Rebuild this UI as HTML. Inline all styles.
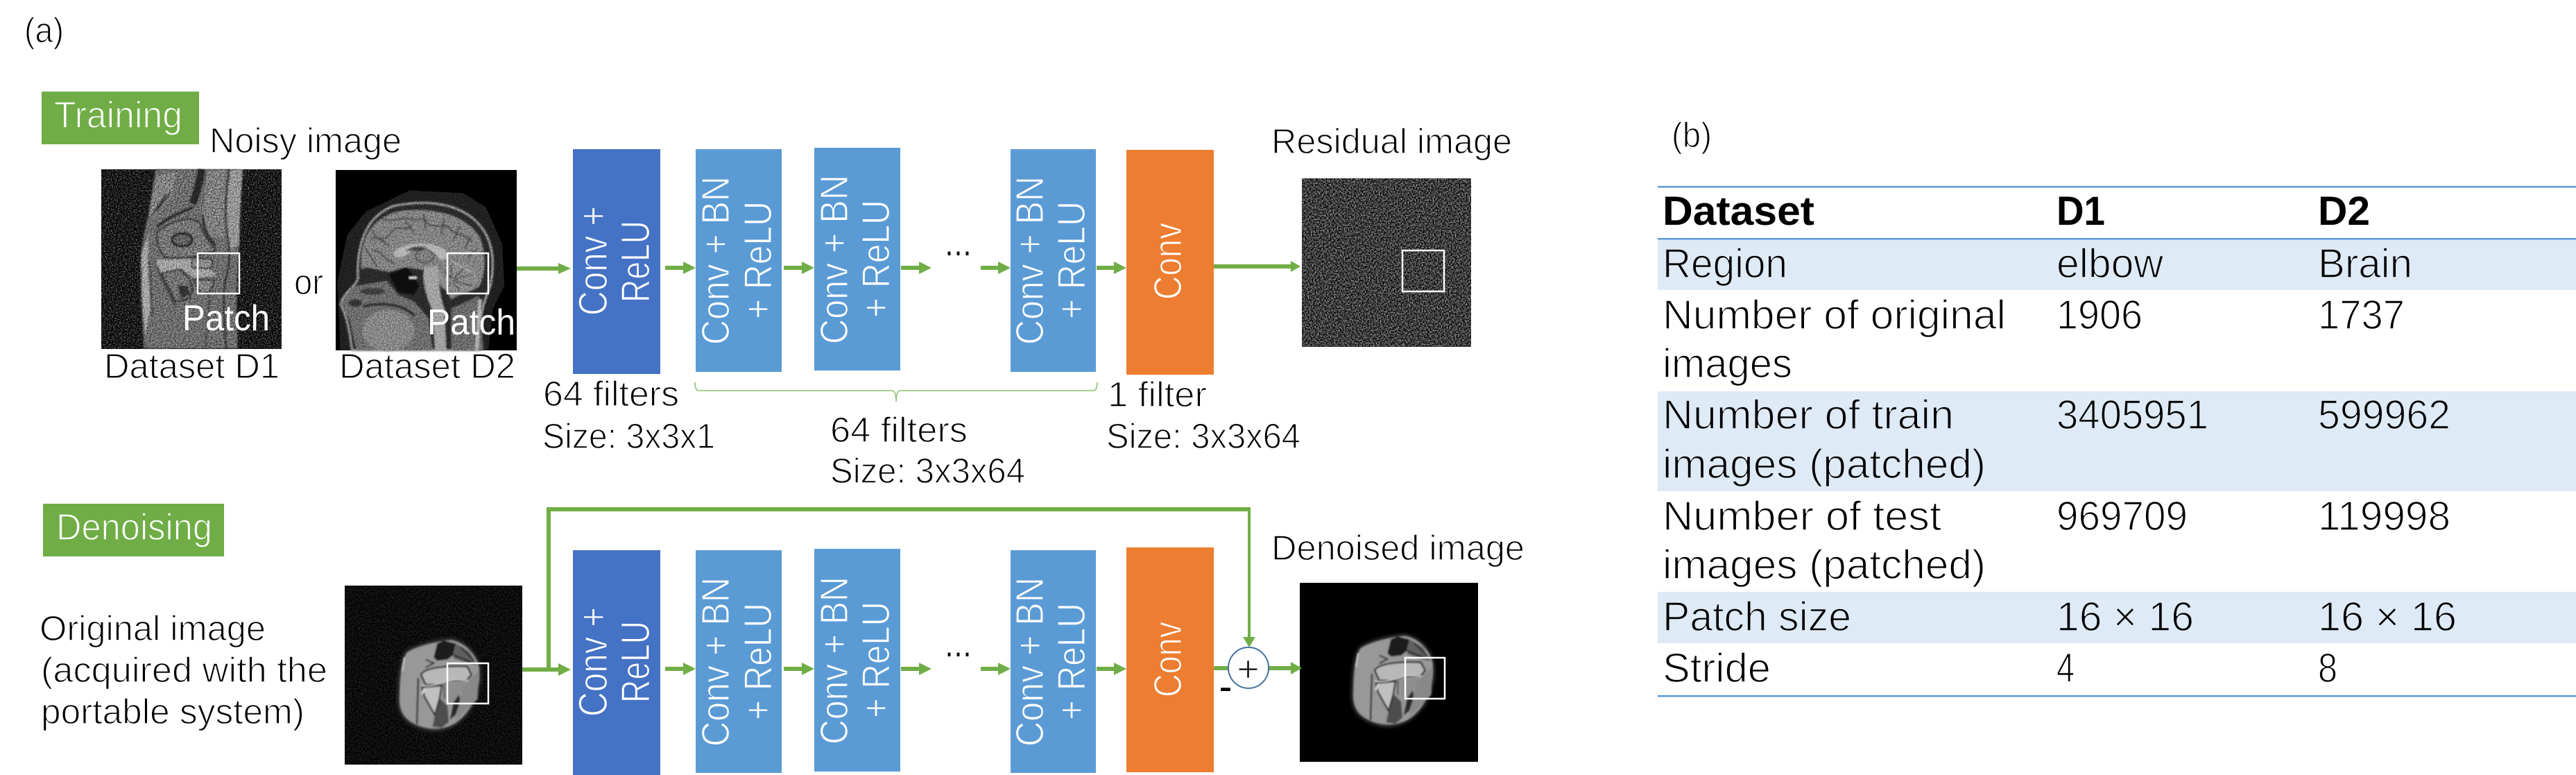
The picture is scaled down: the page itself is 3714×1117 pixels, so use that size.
<!DOCTYPE html>
<html lang="en">
<head>
<meta charset="utf-8">
<title>Diagram</title>
<style>
html,body{margin:0;padding:0;background:#fff;width:3714px;height:1117px;overflow:hidden}
svg{display:block}
text{font-family:"Liberation Sans","Noto Sans CJK JP",sans-serif;white-space:pre}
.k{fill:#000;stroke:#fff;stroke-width:1.4;font-size:51px}
.t{fill:#000;stroke:#fff;stroke-width:1.5;font-size:59px}
.tb{fill:#000;stroke:#deeaf6;stroke-width:1.5;font-size:59px}
.b{fill:#000;font-size:58px;font-weight:bold}
.gw{fill:#fff;stroke:#70ad47;stroke-width:1.4;font-size:54px}
.pw{fill:#fff;stroke:none;font-size:52px}
.r1{fill:#fff;stroke:#4472c4;stroke-width:1.3;font-size:58px}
.r2{fill:#fff;stroke:#5b9bd5;stroke-width:1.3;font-size:57px}
.r3{fill:#fff;stroke:#ed7d31;stroke-width:1.3;font-size:57px}
.g{fill:#70ad47}
.box{fill:none;stroke:#fff;stroke-width:2.5}
</style>
</head>
<body>
<svg xmlns="http://www.w3.org/2000/svg" width="3714" height="1117" viewBox="0 0 3714 1117">
<defs>
  <filter id="nDark" x="0" y="0" width="100%" height="100%" color-interpolation-filters="sRGB">
    <feTurbulence type="fractalNoise" baseFrequency="0.55" numOctaves="2" seed="4"/>
    <feColorMatrix type="matrix" values="1 0 0 0 -0.4  1 0 0 0 -0.4  1 0 0 0 -0.4  0 0 0 0 1"/>
  </filter>
  <filter id="nRes" x="0" y="0" width="100%" height="100%" color-interpolation-filters="sRGB">
    <feTurbulence type="fractalNoise" baseFrequency="0.5" numOctaves="2" seed="9"/>
    <feColorMatrix type="matrix" values="1.3 0 0 0 -0.41  1.3 0 0 0 -0.41  1.3 0 0 0 -0.41  0 0 0 0 1"/>
  </filter>
  <filter id="nOv" x="0" y="0" width="100%" height="100%" color-interpolation-filters="sRGB">
    <feTurbulence type="fractalNoise" baseFrequency="0.5" numOctaves="2" seed="2"/>
    <feColorMatrix type="matrix" values="1.6 0 0 0 -0.3  1.6 0 0 0 -0.3  1.6 0 0 0 -0.3  0 0 0 0 1"/>
  </filter>
  <filter id="nFaint" x="0" y="0" width="100%" height="100%" color-interpolation-filters="sRGB">
    <feTurbulence type="fractalNoise" baseFrequency="0.5" numOctaves="2" seed="6"/>
    <feColorMatrix type="matrix" values=".3 0 0 0 -0.1  .3 0 0 0 -0.1  .3 0 0 0 -0.1  0 0 0 0 1"/>
  </filter>
  <filter id="s2" x="-10%" y="-10%" width="120%" height="120%"><feGaussianBlur stdDeviation="3"/></filter>
  <filter id="s6" x="-20%" y="-20%" width="140%" height="140%"><feGaussianBlur stdDeviation="9"/></filter>

  <g id="joint">
    <path d="M265 285C320 250 400 235 460 230C520 240 570 290 585 350C595 430 570 540 480 600C430 630 370 640 300 605C250 580 225 540 232 470C235 380 240 330 265 285Z" fill="#4a4a4a" filter="url(#s6)"/>
    <g filter="url(#s2)">
      <path d="M268 290C320 258 400 242 460 236C520 246 565 295 580 350C590 430 565 535 478 595C430 622 370 630 302 598C256 575 232 540 238 470C240 385 246 335 268 290Z" fill="#989898"/>
      <path d="M400 250L430 238L480 250L470 300L445 320L400 325L385 310Z" fill="#1c1c1c"/>
      <path d="M480 250L540 285L572 345L530 335L470 315Z" fill="#5f5f5f"/>
      <path d="M500 265L560 325M470 300L545 330" stroke="#1c1c1c" stroke-width="6" fill="none"/>
      <path d="M350 320L385 335L350 355" stroke="#222" stroke-width="6" fill="none"/>
      <path d="M318 400L312 600" stroke="#222" stroke-width="7" fill="none"/>
      <path d="M258 310L248 370" stroke="#e0e0e0" stroke-width="5" fill="none"/>
      <path d="M330 385C345 355 440 345 530 350L548 385L530 408L460 412L400 428L350 428Z" fill="#b8b8b8" stroke="#141414" stroke-width="7"/>
      <path d="M335 440L420 432L410 490L390 560L345 480Z" fill="#c0c0c0" stroke="#141414" stroke-width="7"/>
      <path d="M440 428L530 412L495 470L465 505L445 505Z" fill="#8e8e8e"/>
      <path d="M495 470L470 505L455 580L480 560L500 500Z" fill="#2a2a2a"/>
      <path d="M415 490L390 560L380 610L420 615L450 590L445 520Z" fill="#4d4d4d"/>
      <path d="M510 440L578 370L575 490L510 555L480 585L495 510Z" fill="#888"/>
      <path d="M330 432C380 440 430 415 470 408C500 405 520 410 535 410" stroke="#d0d0d0" stroke-width="5" fill="none"/>
      <path d="M430 428L430 490" stroke="#1a1a1a" stroke-width="5" fill="none"/>
      <path d="M345 445L335 470" stroke="#eee" stroke-width="6" fill="none"/>
    </g>
  </g>
</defs>

<rect width="3714" height="1117" fill="#fff"/>

<!-- (a) -->
<text class="k" x="35" y="61" textLength="57" lengthAdjust="spacingAndGlyphs">(a)</text>

<!-- Training -->
<rect x="60" y="132" width="227" height="76" class="g"/>
<text class="gw" x="78" y="184" textLength="185" lengthAdjust="spacingAndGlyphs">Training</text>
<text class="k" x="302" y="220" textLength="277" lengthAdjust="spacingAndGlyphs">Noisy image</text>

<!-- Elbow image -->
<g>
  <rect x="146" y="244" width="260" height="259" fill="#141414"/>
  <rect x="146" y="244" width="260" height="259" filter="url(#nDark)"/>
  <g transform="translate(146 244) scale(.3333)">
    <g filter="url(#s2)">
      <path d="M235 0L610 0L600 100L598 300L590 400L585 560L590 775L185 775L172 560L170 380L185 280L205 190Z" fill="#6c6c6c"/>
      <path d="M555 0L612 0L600 200L597 330L560 345L535 240Z" fill="#949494"/>
      <path d="M460 0L540 0L530 160L530 300L470 290L440 200Z" fill="#7e7e7e"/>
      <path d="M175 360L205 285L200 400L212 600L190 720L178 560Z" fill="#a4a4a4"/>
      <path d="M240 30L320 10L310 110L230 210L205 190Z" fill="#828282"/>
      <path d="M435 0C425 60 410 110 395 150" stroke="#262626" stroke-width="34" fill="none"/>
      <path d="M395 165C340 190 290 205 240 250" stroke="#222" stroke-width="12" fill="none"/>
      <path d="M440 200C440 260 460 290 495 330" stroke="#222" stroke-width="10" fill="none"/>
      <path d="M300 100L240 180M280 110L220 200" stroke="#2a2a2a" stroke-width="7" fill="none"/>
      <path d="M240 272C300 222 400 192 430 240C445 300 490 330 492 352L420 372L380 382L280 382C250 362 240 312 240 272Z" fill="#747474" stroke="#181818" stroke-width="6"/>
      <ellipse cx="350" cy="305" rx="44" ry="28" fill="#626262" stroke="#181818" stroke-width="10"/>
      <path d="M230 392L420 386L500 460L400 470L350 430L260 450Z" fill="#a0a0a0"/>
      <rect x="392" y="386" width="88" height="42" rx="12" fill="#8c8c8c" stroke="#181818" stroke-width="6"/>
      <path d="M260 450L340 432L380 470L395 520L380 560L320 572Z" fill="#727272" stroke="#181818" stroke-width="6"/>
      <path d="M330 500L375 505L385 540L345 560Z" fill="#303030"/>
      <path d="M400 475L490 480L470 530L430 535Z" fill="#828282" stroke="#181818" stroke-width="6"/>
      <path d="M555 0C540 100 535 180 545 280C555 330 560 400 540 470C525 520 530 650 540 775" stroke="#181818" stroke-width="7" fill="none"/>
      <path d="M470 540L450 775M210 400L220 640" stroke="#303030" stroke-width="5" fill="none"/>
      <path d="M230 390L255 460L320 590" stroke="#1c1c1c" stroke-width="5" fill="none"/>
    </g>
  </g>
  <rect x="146" y="244" width="260" height="259" filter="url(#nOv)" style="mix-blend-mode:overlay" opacity=".6"/>
  <rect x="285" y="365" width="60" height="58" class="box"/>
  <text class="pw" x="263" y="476" textLength="126" lengthAdjust="spacingAndGlyphs">Patch</text>
</g>
<text class="k" x="424" y="424" textLength="42" lengthAdjust="spacingAndGlyphs">or</text>

<!-- Brain image -->
<g>
  <rect x="484" y="245" width="261" height="260" fill="#000"/>
  <g transform="translate(484 245) scale(.3333)">
    <path d="M130 180L320 88L550 100L650 160L720 320L730 500L680 600L660 780L20 780L8 480L50 280Z" fill="#202020"/>
    <g filter="url(#s2)">
      <path d="M95 470C90 320 130 200 250 155C400 125 560 140 640 260C680 320 690 400 670 500C650 560 620 600 620 780L70 780C60 700 50 640 20 580C40 520 90 500 95 470Z" fill="#2a2a2a" stroke="#a0a0a0" stroke-width="8"/>
      <path d="M112 430C100 300 160 200 280 178C420 162 560 190 622 290C650 360 650 440 622 500C590 530 540 530 500 560L440 440L300 420L230 440L130 420Z" fill="#828282"/>
      <path d="M150 300C180 280 210 320 240 270C260 230 300 270 330 240M200 210C240 230 290 200 320 210C360 230 370 190 400 230C430 260 470 220 500 260C530 290 560 270 590 310M380 190L390 260M470 210L455 280M540 240L510 300M160 350C200 340 200 390 250 400M130 340L180 420M230 330C190 290 170 300 160 260M300 220L340 270M580 290L560 340M610 340L570 380" stroke="#404040" stroke-width="6" fill="none"/>
      <path d="M250 360C270 318 400 298 472 345C492 370 482 392 450 386C430 340 350 330 300 370C280 382 255 382 250 360Z" fill="#b4b4b4"/>
      <path d="M300 350C330 330 360 325 400 335L350 350Z" fill="#444"/>
      <ellipse cx="385" cy="372" rx="40" ry="28" fill="#7f7f7f" stroke="#333" stroke-width="5"/>
      <path d="M385 420L440 415C452 470 440 520 470 600L478 780L430 780L420 610C390 540 370 470 385 420Z" fill="#a2a2a2"/>
      <ellipse cx="530" cy="470" rx="85" ry="64" fill="#8a8a8a"/>
      <path d="M500 470L460 430M500 470L500 410M510 470L560 420M510 475L590 450M510 480L590 500M505 485L540 525M500 490L480 510" stroke="#3c3c3c" stroke-width="5" fill="none"/>
      <path d="M500 392L590 445" stroke="#b0b0b0" stroke-width="5" fill="none"/>
      <path d="M20 580L70 505L220 480L270 540L340 570L400 640L420 780L90 780L60 650Z" fill="#6c6c6c"/>
      <path d="M228 450L310 420L362 500L340 540L270 530Z" fill="#111"/>
      <ellipse cx="160" cy="525" rx="55" ry="15" fill="#3c3c3c"/>
      <ellipse cx="85" cy="575" rx="30" ry="16" fill="#333"/>
      <ellipse cx="228" cy="695" rx="112" ry="90" fill="#868686"/>
      <path d="M120 590C200 570 290 580 340 630" stroke="#2a2a2a" stroke-width="12" fill="none"/>
      <path d="M318 466H350" stroke="#e8e8e8" stroke-width="8"/>
      <path d="M500 600L620 545L640 780L500 780Z" fill="#6a6a6a"/>
      <path d="M625 560L610 780" stroke="#b4b4b4" stroke-width="14" fill="none"/>
      <path d="M530 560C580 530 640 520 660 470" stroke="#2a2a2a" stroke-width="10" fill="none"/>
    </g>
  </g>
  <rect x="484" y="245" width="261" height="260" filter="url(#nOv)" style="mix-blend-mode:overlay" opacity=".4"/>
  <rect x="645" y="365" width="59" height="58" class="box"/>
  <text class="pw" x="616" y="482" textLength="127" lengthAdjust="spacingAndGlyphs">Patch</text>
</g>

<text class="k" x="150" y="545" textLength="253" lengthAdjust="spacingAndGlyphs">Dataset D1</text>
<text class="k" x="489" y="545" textLength="254" lengthAdjust="spacingAndGlyphs">Dataset D2</text>

<!-- Training blocks -->
<rect x="826" y="215" width="126" height="324" fill="#4472c4"/>
<text class="r1" transform="translate(875 455) rotate(-90)" textLength="158" lengthAdjust="spacingAndGlyphs">Conv +</text>
<text class="r1" transform="translate(936 436) rotate(-90)" textLength="118" lengthAdjust="spacingAndGlyphs">ReLU</text>

<rect x="1003" y="215" width="124" height="321" fill="#5b9bd5"/>
<text class="r2" transform="translate(1051 497) rotate(-90)" textLength="243" lengthAdjust="spacingAndGlyphs">Conv + BN</text>
<text class="r2" transform="translate(1112 460) rotate(-90)" textLength="170" lengthAdjust="spacingAndGlyphs">+ ReLU</text>

<rect x="1174" y="213" width="124" height="321" fill="#5b9bd5"/>
<text class="r2" transform="translate(1222 496) rotate(-90)" textLength="244" lengthAdjust="spacingAndGlyphs">Conv + BN</text>
<text class="r2" transform="translate(1282 458) rotate(-90)" textLength="170" lengthAdjust="spacingAndGlyphs">+ ReLU</text>

<rect x="1457" y="215" width="123" height="321" fill="#5b9bd5"/>
<text class="r2" transform="translate(1504 497) rotate(-90)" textLength="243" lengthAdjust="spacingAndGlyphs">Conv + BN</text>
<text class="r2" transform="translate(1564 460) rotate(-90)" textLength="170" lengthAdjust="spacingAndGlyphs">+ ReLU</text>

<rect x="1624" y="216" width="126" height="324" fill="#ed7d31"/>
<text class="r3" transform="translate(1703 432) rotate(-90)" textLength="111" lengthAdjust="spacingAndGlyphs">Conv</text>

<text style="font-size:50px" x="1361" y="368" textLength="41" lengthAdjust="spacingAndGlyphs">…</text>

<!-- Training arrows -->
<g class="g">
  <polygon points="745,384 805,384 805,379 823,387 805,395 805,390 745,390"/>
  <polygon points="959,383 985,383 985,377 1003,386 985,395 985,389 959,389"/>
  <polygon points="1130,383 1156,383 1156,377 1174,386 1156,395 1156,389 1130,389"/>
  <polygon points="1299,383 1325,383 1325,377 1343,386 1325,395 1325,389 1299,389"/>
  <polygon points="1414,383 1439,383 1439,377 1457,386 1439,395 1439,389 1414,389"/>
  <polygon points="1581,383 1606,383 1606,377 1624,386 1606,395 1606,389 1581,389"/>
  <polygon points="1750,381 1861,381 1861,376 1875,384 1861,392 1861,387 1750,387"/>
</g>

<text class="k" x="1833" y="221" textLength="347" lengthAdjust="spacingAndGlyphs">Residual image</text>
<rect x="1877" y="257" width="244" height="243" fill="#333"/>
<rect x="1877" y="257" width="244" height="243" filter="url(#nRes)"/>
<rect x="2022" y="361" width="60" height="59" class="box"/>

<!-- Brace -->
<path d="M1002 551Q1002 563 1008 563H1286Q1292 563 1292 579Q1292 563 1298 563H1576Q1582 563 1582 551" fill="none" stroke="#8cbf6c" stroke-width="1.6"/>

<text class="k" x="783" y="585" textLength="196" lengthAdjust="spacingAndGlyphs">64 filters</text>
<text class="k" x="782" y="646" textLength="249" lengthAdjust="spacingAndGlyphs">Size: 3x3x1</text>
<text class="k" x="1197" y="637" textLength="198" lengthAdjust="spacingAndGlyphs">64 filters</text>
<text class="k" x="1197" y="696" textLength="281" lengthAdjust="spacingAndGlyphs">Size: 3x3x64</text>
<text class="k" x="1597" y="586" textLength="143" lengthAdjust="spacingAndGlyphs">1 filter</text>
<text class="k" x="1595" y="646" textLength="280" lengthAdjust="spacingAndGlyphs">Size: 3x3x64</text>

<!-- Denoising -->
<rect x="62" y="726" width="261" height="76" class="g"/>
<text class="gw" x="81" y="778" textLength="225" lengthAdjust="spacingAndGlyphs">Denoising</text>

<text class="k" x="57" y="923" textLength="326" lengthAdjust="spacingAndGlyphs">Original image</text>
<text class="k" x="59" y="983" textLength="413" lengthAdjust="spacingAndGlyphs">(acquired with the</text>
<text class="k" x="59" y="1043" textLength="380" lengthAdjust="spacingAndGlyphs">portable system)</text>

<rect x="497" y="844" width="256" height="258" fill="#0a0a0a"/>
<rect x="497" y="844" width="256" height="258" filter="url(#nFaint)"/>
<use href="#joint" transform="translate(497 844) scale(.3333)"/>
<rect x="645" y="956" width="59" height="58" class="box"/>

<rect x="1874" y="840" width="257" height="258" fill="#000"/>
<use href="#joint" transform="translate(1872 838) scale(.3333)"/>
<rect x="2026" y="948" width="57" height="59" class="box"/>

<rect x="826" y="793" width="126" height="324" fill="#4472c4"/>
<text class="r1" transform="translate(875 1033) rotate(-90)" textLength="158" lengthAdjust="spacingAndGlyphs">Conv +</text>
<text class="r1" transform="translate(936 1013) rotate(-90)" textLength="118" lengthAdjust="spacingAndGlyphs">ReLU</text>

<rect x="1003" y="793" width="124" height="321" fill="#5b9bd5"/>
<text class="r2" transform="translate(1051 1076) rotate(-90)" textLength="244" lengthAdjust="spacingAndGlyphs">Conv + BN</text>
<text class="r2" transform="translate(1112 1038) rotate(-90)" textLength="169" lengthAdjust="spacingAndGlyphs">+ ReLU</text>

<rect x="1174" y="791" width="124" height="321" fill="#5b9bd5"/>
<text class="r2" transform="translate(1222 1073) rotate(-90)" textLength="242" lengthAdjust="spacingAndGlyphs">Conv + BN</text>
<text class="r2" transform="translate(1282 1035) rotate(-90)" textLength="168" lengthAdjust="spacingAndGlyphs">+ ReLU</text>

<rect x="1457" y="793" width="123" height="321" fill="#5b9bd5"/>
<text class="r2" transform="translate(1504 1076) rotate(-90)" textLength="244" lengthAdjust="spacingAndGlyphs">Conv + BN</text>
<text class="r2" transform="translate(1564 1038) rotate(-90)" textLength="169" lengthAdjust="spacingAndGlyphs">+ ReLU</text>

<rect x="1624" y="789" width="126" height="324" fill="#ed7d31"/>
<text class="r3" transform="translate(1703 1005) rotate(-90)" textLength="109" lengthAdjust="spacingAndGlyphs">Conv</text>

<text style="font-size:50px" x="1361" y="946" textLength="41" lengthAdjust="spacingAndGlyphs">…</text>

<!-- Denoising arrows -->
<g class="g">
  <polygon points="753,962 805,962 805,956 823,965 805,974 805,968 753,968"/>
  <rect x="788" y="731" width="6" height="233"/>
  <rect x="788" y="731" width="1015" height="6"/>
  <rect x="1799" y="731" width="4" height="189"/>
  <polygon points="1792,918 1810,918 1801,933"/>
  <polygon points="959,961 985,961 985,955 1003,964 985,973 985,967 959,967"/>
  <polygon points="1130,961 1156,961 1156,955 1174,964 1156,973 1156,967 1130,967"/>
  <polygon points="1299,961 1325,961 1325,955 1343,964 1325,973 1325,967 1299,967"/>
  <polygon points="1414,961 1439,961 1439,955 1457,964 1439,973 1439,967 1414,967"/>
  <polygon points="1581,961 1606,961 1606,955 1624,964 1606,973 1606,967 1581,967"/>
  <rect x="1750" y="960" width="21" height="6"/>
  <polygon points="1829,960 1861,960 1861,954 1877,963 1861,972 1861,966 1829,966"/>
</g>
<ellipse cx="1800" cy="962.500" rx="29" ry="29.500" fill="#fff" stroke="#41719c" stroke-width="2"/>
<text style="font-size:53px;fill:#000;stroke:#fff;stroke-width:1.5" x="1783" y="982" textLength="33" lengthAdjust="spacingAndGlyphs">+</text>
<text style="font-size:40px;font-weight:bold" x="1758" y="1004" textLength="18" lengthAdjust="spacingAndGlyphs">-</text>

<text class="k" x="1833" y="807" textLength="365" lengthAdjust="spacingAndGlyphs">Denoised image</text>

<!-- (b) table -->
<text class="k" x="2410" y="212" textLength="58" lengthAdjust="spacingAndGlyphs">(b)</text>

<rect x="2390" y="344" width="1324" height="74" fill="#deeaf6"/>
<rect x="2390" y="564" width="1324" height="144" fill="#deeaf6"/>
<rect x="2390" y="853" width="1324" height="74" fill="#deeaf6"/>
<rect x="2390" y="268" width="1324" height="2.500" fill="#5b9bd5"/>
<rect x="2390" y="343" width="1324" height="2.500" fill="#5b9bd5"/>
<rect x="2390" y="1002" width="1324" height="2.500" fill="#5b9bd5"/>

<text class="b" x="2397" y="324" textLength="219" lengthAdjust="spacingAndGlyphs">Dataset</text>
<text class="b" x="2965" y="324" textLength="70" lengthAdjust="spacingAndGlyphs">D1</text>
<text class="b" x="3342" y="324" textLength="75" lengthAdjust="spacingAndGlyphs">D2</text>

<text class="tb" x="2397" y="400" textLength="180" lengthAdjust="spacingAndGlyphs">Region</text>
<text class="tb" x="2965" y="400" textLength="154" lengthAdjust="spacingAndGlyphs">elbow</text>
<text class="tb" x="3342" y="400" textLength="136" lengthAdjust="spacingAndGlyphs">Brain</text>

<text class="t" x="2397" y="474" textLength="495" lengthAdjust="spacingAndGlyphs">Number of original</text>
<text class="t" x="2965" y="474" textLength="124" lengthAdjust="spacingAndGlyphs">1906</text>
<text class="t" x="3342" y="474" textLength="125" lengthAdjust="spacingAndGlyphs">1737</text>
<text class="t" x="2397" y="544" textLength="187" lengthAdjust="spacingAndGlyphs">images</text>

<text class="tb" x="2397" y="618" textLength="420" lengthAdjust="spacingAndGlyphs">Number of train</text>
<text class="tb" x="2965" y="618" textLength="219" lengthAdjust="spacingAndGlyphs">3405951</text>
<text class="tb" x="3342" y="618" textLength="191" lengthAdjust="spacingAndGlyphs">599962</text>
<text class="tb" x="2397" y="689" textLength="466" lengthAdjust="spacingAndGlyphs">images (patched)</text>

<text class="t" x="2397" y="764" textLength="402" lengthAdjust="spacingAndGlyphs">Number of test</text>
<text class="t" x="2965" y="764" textLength="189" lengthAdjust="spacingAndGlyphs">969709</text>
<text class="t" x="3342" y="764" textLength="191" lengthAdjust="spacingAndGlyphs">119998</text>
<text class="t" x="2397" y="834" textLength="466" lengthAdjust="spacingAndGlyphs">images (patched)</text>

<text class="tb" x="2397" y="909" textLength="272" lengthAdjust="spacingAndGlyphs">Patch size</text>
<text class="tb" x="2965" y="909" textLength="198" lengthAdjust="spacingAndGlyphs">16 × 16</text>
<text class="tb" x="3342" y="909" textLength="200" lengthAdjust="spacingAndGlyphs">16 × 16</text>

<text class="t" x="2397" y="983" textLength="156" lengthAdjust="spacingAndGlyphs">Stride</text>
<text class="t" x="2965" y="983" textLength="26" lengthAdjust="spacingAndGlyphs">4</text>
<text class="t" x="3342" y="983" textLength="28" lengthAdjust="spacingAndGlyphs">8</text>
</svg>
</body>
</html>
